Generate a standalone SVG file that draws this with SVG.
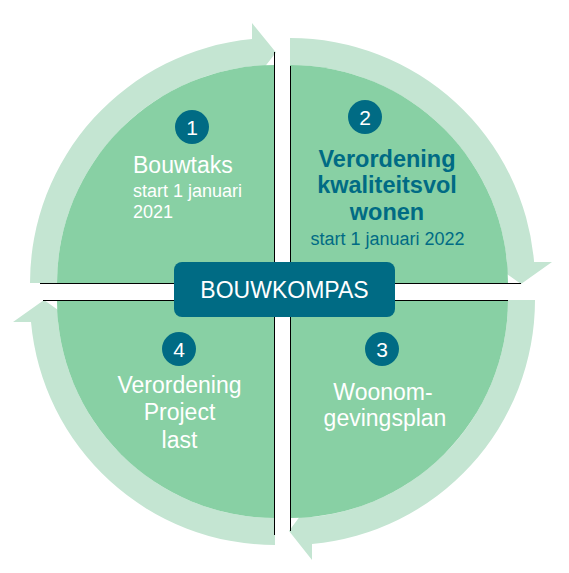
<svg xmlns="http://www.w3.org/2000/svg" width="569" height="573" viewBox="0 0 569 573">
  <style>
    .quad { fill: #88D0A4; }
    .band { fill: #C4E5D2; }
    .edge { stroke: #000; stroke-width: 1; fill: none; }
    .badge { fill: #006B84; }
    .num { font-family: "Liberation Sans", Arial, sans-serif; font-size: 21px; fill: #fff; text-anchor: middle; }
    .title { font-family: "Liberation Sans", Arial, sans-serif; font-size: 23px; fill: #fff; }
    .sub { font-family: "Liberation Sans", Arial, sans-serif; font-size: 18px; fill: #fff; }
    .teal { fill: #006B84; }
    .bold { font-weight: bold; font-size: 23.5px; }
    .mid { text-anchor: middle; }
  </style>
  <rect width="569" height="573" fill="#fff"/>

  <g id="connectors">
    <path class="band" d="M 30 283 A 245 245 0 0 1 252 39.1 L 252 23 L 276 52.5 L 252 83 L 252 66.2 A 218 218 0 0 0 57 283 Z"/>
    <path class="band" d="M 290 38 A 245 245 0 0 1 534.1 262 L 552 262 L 521 284 L 490 262 L 507 262 A 218 218 0 0 0 290 65 Z"/>
    <path class="band" d="M 535 300 A 245 245 0 0 1 312 544 L 312 560 L 289 531 L 312 500 L 312 517 A 218 218 0 0 0 508 300 Z"/>
    <path class="band" d="M 275 545 A 245 245 0 0 1 31 322 L 13 322 L 44 300 L 75 322 L 58.1 322 A 218 218 0 0 0 275 518 Z"/>
  </g>

  <g id="node-1">
    <path class="quad" d="M 275 283 L 57 283 A 218 218 0 0 1 275 65 Z"/>
    <path class="edge" d="M 274.5 52 L 274.5 283.5 L 40 283.5"/>
    <circle class="badge" cx="192" cy="127" r="17"/>
    <text class="num" x="192" y="134.5">1</text>
    <text class="title" x="133" y="173">Bouwtaks</text>
    <text class="sub" x="133" y="197">start 1 januari</text>
    <text class="sub" x="133" y="218">2021</text>
  </g>

  <g id="node-2">
    <path class="quad" d="M 290 283 L 290 65 A 218 218 0 0 1 508 283 Z"/>
    <path class="edge" d="M 290.5 66 L 290.5 283.5 L 521 283.5"/>
    <circle class="badge" cx="365" cy="117" r="17"/>
    <text class="num" x="365" y="124.5">2</text>
    <text class="title teal bold mid" x="387" y="167">Verordening</text>
    <text class="title teal bold mid" x="387" y="193">kwaliteitsvol</text>
    <text class="title teal bold mid" x="387" y="220">wonen</text>
    <text class="sub teal mid" x="387.5" y="245">start 1 januari 2022</text>
  </g>

  <g id="node-3">
    <path class="quad" d="M 290 300 L 508 300 A 218 218 0 0 1 290 518 Z"/>
    <path class="edge" d="M 508 300.5 L 290.5 300.5 L 290.5 531"/>
    <circle class="badge" cx="382" cy="349" r="17"/>
    <text class="num" x="382" y="356.5">3</text>
    <text class="title mid" x="383" y="400">Woonom-</text>
    <text class="title mid" x="385" y="426">gevingsplan</text>
  </g>

  <g id="node-4">
    <path class="quad" d="M 275 300 L 275 518 A 218 218 0 0 1 57 300 Z"/>
    <path class="edge" d="M 43 300.5 L 274.5 300.5 L 274.5 535"/>
    <circle class="badge" cx="179" cy="349" r="17"/>
    <text class="num" x="179" y="356.5">4</text>
    <text class="title mid" x="179.5" y="393">Verordening</text>
    <text class="title mid" x="179.5" y="420">Project</text>
    <text class="title mid" x="179.5" y="448">last</text>
  </g>

  <g id="node-center">
    <rect x="174" y="262" width="221" height="55" rx="8" ry="8" fill="#006B84"/>
    <text class="title mid" x="284.5" y="298" style="font-size:23px">BOUWKOMPAS</text>
  </g>
</svg>
